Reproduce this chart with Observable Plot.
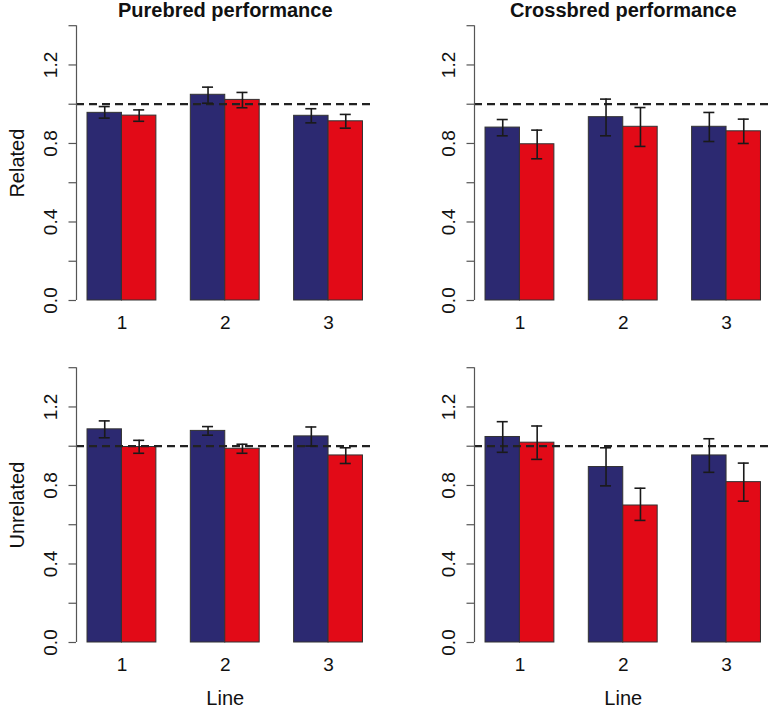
<!DOCTYPE html>
<html>
<head>
<meta charset="utf-8">
<script src="https://cdn.jsdelivr.net/npm/d3@7"></script>
<script src="https://cdn.jsdelivr.net/npm/@observablehq/plot@0.6"></script>
<style>
  html, body { margin: 0; padding: 0; background: #fff; }
  #chart { position: relative; width: 774px; height: 710px; background: #fff; font-family: "Liberation Sans", Arial, sans-serif; }
  .panel { position: absolute; }
</style>
</head>
<body>
<div id="chart"></div>
<script>
// ---- data ----
const lines = ["1", "2", "3"];
const seriesNames = ["A", "B"];
const seriesColors = ["#2C2971", "#E20A17"];
const columnTitles = ["Purebred performance", "Crossbred performance"];
const rowLabels = ["Related", "Unrelated"];
const yTicks = [0, 0.2, 0.4, 0.6, 0.8, 1.0, 1.2, 1.4];
const yTickLabels = [0, 0.4, 0.8, 1.2];
const referenceLevel = 1;
const xAxisLabel = "Line";

// Purebred / Related
const pureRelA = [0.956, 1.048, 0.941];
const pureRelALo = [0.929, 1.005, 0.905];
const pureRelAHi = [0.988, 1.087, 0.977];
const pureRelB = [0.942, 1.022, 0.913];
const pureRelBLo = [0.913, 0.982, 0.878];
const pureRelBHi = [0.971, 1.060, 0.948];
// Crossbred / Related
const crossRelA = [0.881, 0.934, 0.885];
const crossRelALo = [0.839, 0.839, 0.810];
const crossRelAHi = [0.922, 1.026, 0.958];
const crossRelB = [0.796, 0.885, 0.862];
const crossRelBLo = [0.722, 0.785, 0.800];
const crossRelBHi = [0.868, 0.983, 0.924];
// Purebred / Unrelated
const pureUnrA = [1.086, 1.078, 1.050];
const pureUnrALo = [1.043, 1.056, 1.001];
const pureUnrAHi = [1.129, 1.100, 1.098];
const pureUnrB = [0.996, 0.987, 0.953];
const pureUnrBLo = [0.964, 0.964, 0.912];
const pureUnrBHi = [1.030, 1.010, 0.992];
// Crossbred / Unrelated
const crossUnrA = [1.047, 0.894, 0.953];
const crossUnrALo = [0.969, 0.798, 0.867];
const crossUnrAHi = [1.125, 0.992, 1.038];
const crossUnrB = [1.018, 0.698, 0.817];
const crossUnrBLo = [0.933, 0.622, 0.720];
const crossUnrBHi = [1.103, 0.786, 0.914];

const panelData = [
  [[pureRelA, pureRelALo, pureRelAHi, pureRelB, pureRelBLo, pureRelBHi],
   [crossRelA, crossRelALo, crossRelAHi, crossRelB, crossRelBLo, crossRelBHi]],
  [[pureUnrA, pureUnrALo, pureUnrAHi, pureUnrB, pureUnrBLo, pureUnrBHi],
   [crossUnrA, crossUnrALo, crossUnrAHi, crossUnrB, crossUnrBLo, crossUnrBHi]]
];

// ---- layout (R barplot beside=TRUE, space=c(0,1)) ----
const nBars = lines.length * 3;          // bar slots incl. gaps
const xDomain = [1 - 0.04 * (nBars - 1), nBars + 0.04 * (nBars - 1)];
const capHalf = 0.16;
const font = "'Liberation Sans', Arial, sans-serif";

function buildRows(arrs) {
  const [aM, aLo, aHi, bM, bLo, bHi] = arrs;
  const rows = [];
  lines.forEach((ln, i) => {
    [[aM, aLo, aHi], [bM, bLo, bHi]].forEach(([m, lo, hi], j) => {
      const x1 = i * 3 + j + 1;
      rows.push({line: ln, series: seriesNames[j], x1, x2: x1 + 1, c: x1 + 0.5, mean: m[i], lo: lo[i], hi: hi[i]});
    });
  });
  return rows;
}

const chart = document.getElementById("chart");
const colLeft = [0, 398];
const rowTop = [0, 341.5];
const rowHeight = [341.5, 368.5];
const frameH = 274.8;

for (let r = 0; r < 2; r++) {
  for (let c = 0; c < 2; c++) {
    const rows = buildRows(panelData[r][c]);
    const centers = lines.map((ln, i) => ({line: ln, c: i * 3 + 2}));
    const marks = [
      Plot.rectY(rows, {x1: "x1", x2: "x2", y1: 0, y2: "mean", fill: "series", stroke: "#333", strokeWidth: 1}),
      Plot.ruleY([referenceLevel], {stroke: "#222", strokeWidth: 2.3, strokeDasharray: "8,5"}),
      Plot.ruleX(rows, {x: "c", y1: "lo", y2: "hi", stroke: "#1a1a1a", strokeWidth: 1.6}),
      Plot.ruleY(rows, {y: "lo", x1: d => d.c - capHalf, x2: d => d.c + capHalf, stroke: "#1a1a1a", strokeWidth: 1.6}),
      Plot.ruleY(rows, {y: "hi", x1: d => d.c - capHalf, x2: d => d.c + capHalf, stroke: "#1a1a1a", strokeWidth: 1.6}),
      Plot.ruleX([xDomain[0]], {y1: yTicks[0], y2: yTicks[yTicks.length - 1], stroke: "#555", strokeWidth: 1.2}),
      Plot.axisY({ticks: yTicks, tickSize: 7.5, tickFormat: () => "", stroke: "#555", strokeWidth: 1.2}),
      Plot.text(yTickLabels, {y: d => d, frameAnchor: "left", dx: -26, rotate: -90, text: d => d.toFixed(1),
        textAnchor: "middle", lineAnchor: "middle", fontSize: 19, fill: "#111"}),
      Plot.text(centers, {x: "c", frameAnchor: "bottom", dy: 22, text: "line", textAnchor: "middle",
        lineAnchor: "middle", fontSize: 19, fill: "#111"})
    ];
    if (r === 0) {
      marks.push(Plot.text([columnTitles[c]], {frameAnchor: "top", dy: -15, text: d => d, fontWeight: "bold",
        fontSize: 20, lineAnchor: "middle", fill: "#111"}));
    }
    if (c === 0) {
      marks.push(Plot.text([rowLabels[r]], {frameAnchor: "left", dx: -59, rotate: -90, text: d => d,
        fontSize: 20, textAnchor: "middle", lineAnchor: "middle", fill: "#111"}));
    }
    if (r === 1) {
      marks.push(Plot.text([xAxisLabel], {frameAnchor: "bottom", dy: 56, text: d => d,
        fontSize: 20, textAnchor: "middle", lineAnchor: "middle", fill: "#111"}));
    }
    const h = rowHeight[r];
    const p = Plot.plot({
      width: 376,
      height: h,
      marginLeft: 76,
      marginRight: 2.5,
      marginTop: 25.2,
      marginBottom: h - 25.2 - frameH,
      style: {fontFamily: font, background: "transparent", overflow: "visible"},
      x: {domain: xDomain, axis: null},
      y: {domain: [yTicks[0], yTicks[yTicks.length - 1]], axis: null},
      color: {domain: seriesNames, range: seriesColors},
      marks
    });
    const wrap = document.createElement("div");
    wrap.className = "panel";
    wrap.style.left = colLeft[c] + "px";
    wrap.style.top = rowTop[r] + "px";
    wrap.appendChild(p);
    chart.appendChild(wrap);
  }
}
</script>
</body>
</html>
